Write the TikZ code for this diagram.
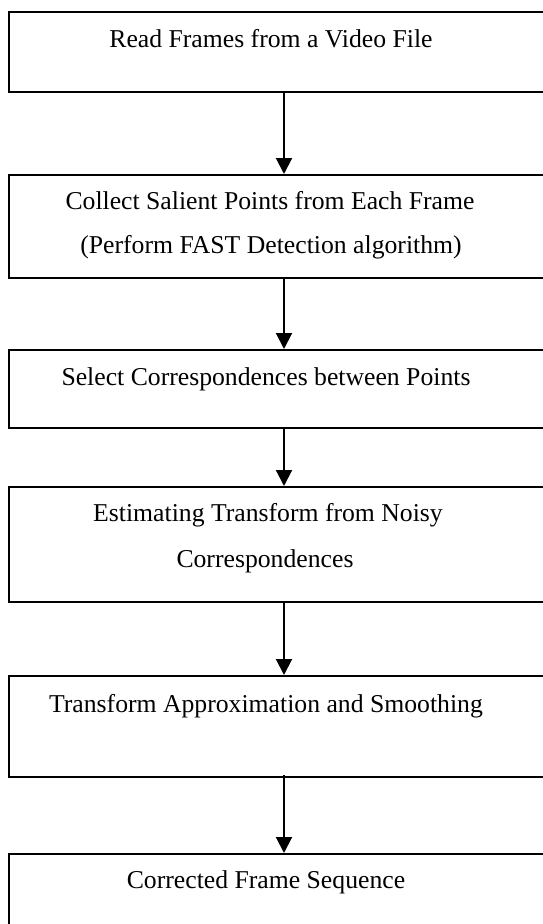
\documentclass[tikz,border=0pt]{standalone}
\usepackage{fontspec}
\setmainfont{Liberation Serif}
\usetikzlibrary{arrows.meta}
\begin{document}
\begin{tikzpicture}[x=1pt,y=-1pt,
  stepbox/.style={draw=black, line width=2pt, rectangle, inner sep=0pt, anchor=north west, minimum width=560pt},
  lbl/.style={inner sep=0pt, anchor=base, font=\fontsize{25.7}{30}\selectfont},
  flow/.style={line width=2pt, -{Triangle[length=16pt,width=16pt]}}]
\useasboundingbox (0,0) rectangle (543,924);
\clip (0,0) rectangle (543,924);
\node[stepbox, minimum height=80pt] (b1) at (8,11) {};
\node[stepbox, minimum height=103pt] (b2) at (8,174) {};
\node[stepbox, minimum height=78pt] (b3) at (8,349) {};
\node[stepbox, minimum height=115pt] (b4) at (8,486) {};
\node[stepbox, minimum height=101pt] (b5) at (8,675) {};
\node[stepbox, minimum height=120pt] (b6) at (8,853) {};
\node[lbl] (t1) at (271,47) {Read Frames from a Video File};
\node[lbl] (t2a) at (270,209) {Collect Salient Points from Each Frame};
\node[lbl] (t2b) at (271,253) {(Perform FAST Detection algorithm)};
\node[lbl] (t3) at (266,385) {Select Correspondences between Points};
\node[lbl] (t4a) at (268,521) {Estimating Transform from Noisy};
\node[lbl] (t4b) at (265,567) {Correspondences};
\node[lbl] (t5) at (266,712) {Transform Approximation and Smoothing};
\node[lbl] (t6) at (266,888) {Corrected Frame Sequence};
\coordinate (ax) at (284,0);
\draw[flow] (b1.south -| ax) -- (b2.north -| ax);
\draw[flow] (b2.south -| ax) -- (b3.north -| ax);
\draw[flow] (b3.south -| ax) -- (b4.north -| ax);
\draw[flow] (b4.south -| ax) -- (b5.north -| ax);
\draw[flow] ([yshift=3pt]b5.south -| ax) -- (b6.north -| ax);
\end{tikzpicture}
\end{document}
